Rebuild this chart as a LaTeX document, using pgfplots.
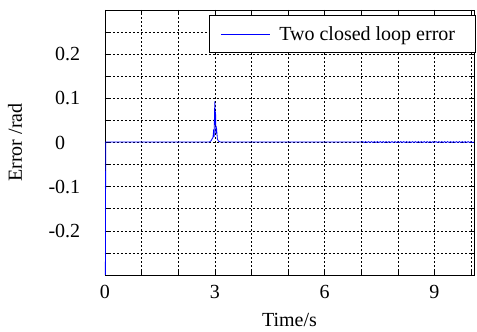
\documentclass[border=0pt]{standalone}
\usepackage{pgfplots}
\pgfplotsset{compat=1.18}
\usepackage{fontspec}
\setmainfont{Liberation Serif}
\begin{document}
\begin{tikzpicture}
\begin{axis}[
  name=ax,
  scale only axis,
  width=369pt, height=265pt,
  xmin=0, xmax=10.08,
  ymin=-0.3, ymax=0.3,
  axis line style={black, line width=0.8pt},
  tick style={black, line width=0.6pt},
  major tick length=4pt,
  tick align=inside,
  xtick={0,1,2,3,4,5,6,7,8,9,10},
  xticklabels={0,,,3,,,6,,,9,},
  ytick={-0.25,-0.2,-0.15,-0.1,-0.05,0,0.05,0.1,0.15,0.2,0.25},
  yticklabels={,\llap{-}0.2,,\llap{-}0.1,,0,,0.1,,0.2,},
  xticklabel style={yshift=-7pt},
  yticklabel style={anchor=west, inner sep=0pt, xshift=-50pt},
  grid=major,
  major grid style={black, dash pattern=on 2pt off 2pt, line width=0.5pt},
  font=\fontsize{20}{23}\selectfont,
  xlabel={Time/s},
  ylabel={Error /rad},
  every axis x label/.style={at={(axis description cs:0.5,-0.1925)}, anchor=base},
  every axis y label/.style={at={(axis description cs:-0.225,0.5)}, rotate=90, anchor=base},
  legend style={at={(axis description cs:1.004,0.981)}, anchor=north east, draw=black, line width=0.8pt, fill=white, inner xsep=11pt, inner ysep=9pt, font=\fontsize{20}{23}\selectfont},
  legend image code/.code={\draw[#1, line width=0.8pt] (0pt,0pt) -- (49pt,0pt); \path (56pt,0pt);},
  legend cell align=left,
]
\addplot[blue, line width=0.8pt] coordinates {
(0,-0.6) (0.02,0.001) (0.5,0.001) (1,0.001) (2,0.001) (2.8,0.001)
(2.85,0.001) (2.9,0.004) (2.95,0.012) (2.97,0.03) (2.98,0.012) (2.99,0.06)
(3.0,0.093) (3.01,0.04) (3.02,0.07) (3.03,0.02) (3.05,0.03) (3.07,0.008)
(3.1,0.003) (3.15,0.001) (4,0.001) (5,0.001) (6,0.001) (7,0.001)
(7.04,0.002) (7.08,0.000) (7.12,0.002) (7.16,0.000) (7.20,0.002) (7.24,0.000)
(7.28,0.002) (7.32,0.000) (7.36,0.002) (7.40,0.000) (7.44,0.002) (7.48,0.000)
(7.52,0.002) (7.56,0.000) (7.60,0.002) (7.64,0.000) (7.68,0.002) (7.72,0.000)
(7.76,0.002) (7.80,0.000) (7.84,0.002) (7.88,0.000) (7.92,0.002) (7.96,0.000)
(8.00,0.002) (8.04,0.000) (8.08,0.002) (8.12,0.000) (8.16,0.002) (8.20,0.000)
(8.24,0.002) (8.28,0.000) (8.32,0.002) (8.36,0.000) (8.40,0.002) (8.44,0.000)
(8.48,0.002) (8.52,0.000) (8.56,0.002) (8.60,0.000) (8.64,0.002) (8.68,0.000)
(8.72,0.002) (8.76,0.000) (8.80,0.002) (8.84,0.000) (8.88,0.002) (8.92,0.000)
(8.96,0.002) (9.00,0.000) (9.04,0.002) (9.08,0.000) (9.12,0.002) (9.16,0.000)
(9.20,0.002) (9.24,0.000) (9.28,0.002) (9.32,0.000) (9.36,0.002) (9.40,0.000)
(9.44,0.002) (9.48,0.000) (9.52,0.002) (9.56,0.000) (9.60,0.002) (9.64,0.000)
(9.68,0.002) (9.72,0.000) (9.76,0.002) (9.80,0.000) (9.84,0.002) (9.88,0.000)
(9.92,0.002) (9.96,0.000) (10.00,0.002) (10.04,0.000) (10.08,0.001)
};
\addlegendentry{Two closed loop error\hspace*{7pt}}
\end{axis}
\pgfresetboundingbox
\useasboundingbox ([shift={(-105pt,-57pt)}]ax.south west) rectangle ([shift={(3pt,10pt)}]ax.north east);
\end{tikzpicture}
\end{document}
